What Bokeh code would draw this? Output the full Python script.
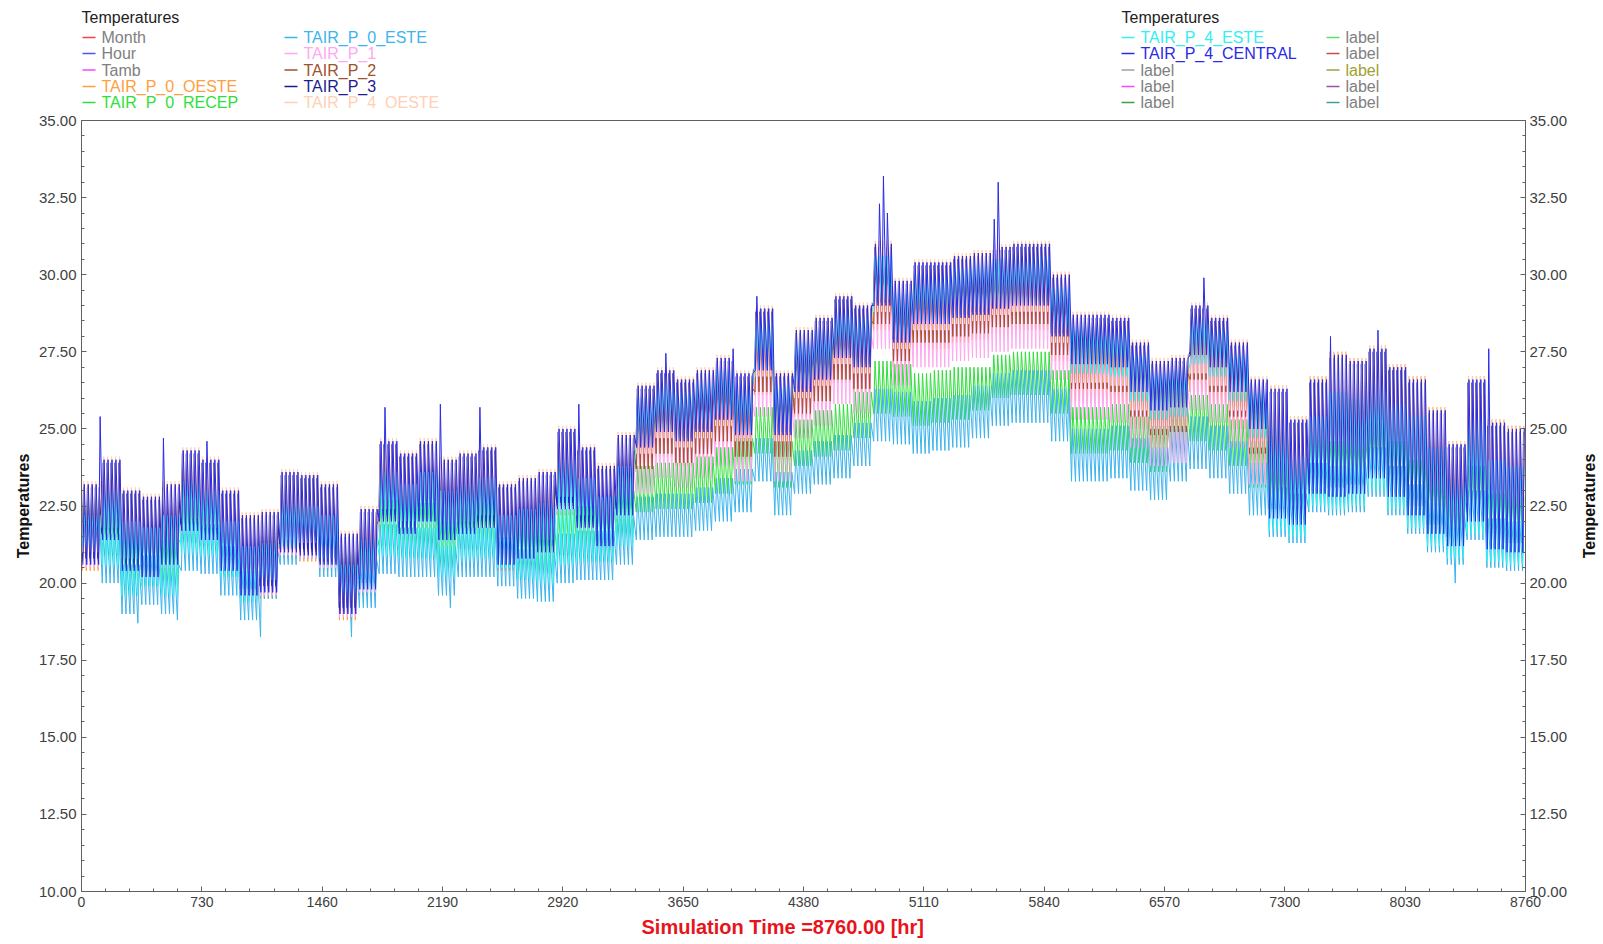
from bokeh.plotting import figure
from bokeh.layouts import column, row
from bokeh.models import Range1d, LinearAxis, FixedTicker, PrintfTickFormatter, Title
from bokeh.core.properties import value
from bokeh.embed import file_html
from bokeh.resources import INLINE

# ---------------------------------------------------------------------------
# Simulated air temperatures, one value pair per 5-day block (120 h):
# the typical daily maximum (hi) and daily minimum (lo) of each zone.
# ---------------------------------------------------------------------------
HOURS_PER_BLOCK = 120
DAYS_PER_BLOCK = 5

p4_central_hi = [23.2, 24.0, 23.0, 22.8, 23.2, 24.3, 24.0, 23.0, 22.2, 22.3,
                 23.6, 23.5, 23.2, 21.6, 22.4, 24.6, 24.2, 24.6, 24.0, 24.2,
                 24.4, 23.2, 23.4, 23.6, 25.0, 24.4, 23.8, 24.8, 26.4, 26.9,
                 26.6, 26.9, 27.3, 26.8, 28.9, 26.8, 28.2, 28.6, 29.3, 29.0,
                 31.0, 29.8, 30.4, 30.4, 30.6, 30.7, 30.9, 31.0, 31.0, 30.0,
                 28.7, 28.7, 28.6, 27.8, 27.2, 27.3, 29.0, 28.6, 27.8, 26.6,
                 26.3, 25.3, 26.6, 27.4, 27.2, 27.6, 27.0, 26.6, 25.6, 24.5,
                 26.6, 25.2, 25.0]
p4_central_lo = [20.6, 21.4, 20.4, 20.2, 20.6, 21.7, 21.4, 20.4, 19.6, 19.7,
                 21.0, 20.9, 20.6, 19.0, 19.8, 22.0, 21.6, 22.0, 21.4, 21.6,
                 21.8, 20.6, 20.8, 21.0, 22.4, 21.8, 21.2, 22.2, 24.4, 24.9,
                 24.6, 24.9, 25.3, 24.8, 26.9, 24.8, 26.2, 26.6, 27.3, 27.0,
                 29.0, 27.8, 28.4, 28.4, 28.6, 28.7, 28.9, 29.0, 29.0, 28.0,
                 27.1, 27.1, 27.0, 26.2, 25.6, 25.7, 27.4, 27.0, 26.2, 25.0,
                 22.1, 21.9, 22.9, 22.8, 22.9, 23.4, 22.8, 22.2, 21.6, 21.2,
                 22.0, 21.1, 21.0]

p3_hi = [23.1, 23.9, 22.9, 22.7, 23.1, 24.2, 23.9, 22.9, 22.1, 22.2,
         23.5, 23.4, 23.1, 21.5, 22.3, 24.5, 24.1, 24.5, 23.9, 24.1,
         24.3, 23.1, 23.3, 23.5, 24.9, 24.3, 23.7, 24.7, 26.3, 26.8,
         26.5, 26.8, 27.2, 26.7, 28.8, 26.7, 28.1, 28.5, 29.2, 28.9,
         30.9, 29.7, 30.3, 30.3, 30.5, 30.6, 30.8, 30.9, 30.9, 29.9,
         28.6, 28.6, 28.5, 27.7, 27.1, 27.2, 28.9, 28.5, 27.7, 26.5,
         26.2, 25.2, 26.5, 27.3, 27.1, 27.5, 26.9, 26.5, 25.5, 24.4,
         26.5, 25.1, 24.9]
p3_lo = [20.8, 21.6, 20.6, 20.4, 20.8, 21.9, 21.6, 20.6, 19.8, 19.9,
         21.2, 21.1, 20.8, 19.2, 20.0, 22.2, 21.8, 22.2, 21.6, 21.8,
         22.0, 20.8, 21.0, 21.2, 22.6, 22.0, 21.4, 22.4, 24.5, 25.0,
         24.7, 25.0, 25.4, 24.9, 27.0, 24.9, 26.3, 26.7, 27.4, 27.1,
         29.1, 27.9, 28.5, 28.5, 28.7, 28.8, 29.0, 29.1, 29.1, 28.1,
         27.2, 27.2, 27.1, 26.3, 25.7, 25.8, 27.5, 27.1, 26.3, 25.1,
         22.4, 22.2, 23.2, 23.1, 23.2, 23.7, 23.1, 22.5, 21.9, 21.5,
         22.3, 21.4, 21.3]

p4_oeste_hi = [23.3, 24.1, 23.1, 22.9, 23.3, 24.4, 24.1, 23.1, 22.3, 22.4,
               23.7, 23.6, 23.3, 21.7, 22.5, 24.7, 24.3, 24.7, 24.1, 24.3,
               24.5, 23.3, 23.5, 23.7, 25.1, 24.5, 23.9, 24.9, 26.5, 27.0,
               26.7, 27.0, 27.4, 26.9, 29.0, 26.9, 28.3, 28.7, 29.4, 29.1,
               31.1, 29.9, 30.5, 30.5, 30.7, 30.8, 31.0, 31.1, 31.1, 30.1,
               28.8, 28.8, 28.7, 27.9, 27.3, 27.4, 29.1, 28.7, 27.9, 26.7,
               26.4, 25.4, 26.7, 27.5, 27.3, 27.7, 27.1, 26.7, 25.7, 24.6,
               26.7, 25.3, 25.1]
p4_oeste_lo = [21.0, 21.8, 20.8, 20.6, 21.0, 22.1, 21.8, 20.8, 20.0, 20.1,
               21.4, 21.3, 21.0, 19.4, 20.2, 22.4, 22.0, 22.4, 21.8, 22.0,
               22.2, 21.0, 21.2, 21.4, 22.8, 22.2, 21.6, 22.6, 24.2, 24.7,
               24.4, 24.7, 25.1, 24.6, 26.7, 24.6, 26.0, 26.4, 27.1, 26.8,
               28.8, 27.6, 28.2, 28.2, 28.4, 28.5, 28.7, 28.8, 28.8, 27.8,
               26.5, 26.5, 26.4, 25.6, 25.0, 25.1, 26.8, 26.4, 25.6, 24.4,
               22.7, 22.5, 23.5, 23.4, 23.5, 24.0, 23.4, 22.8, 22.2, 21.8,
               22.6, 21.7, 21.6]

p0_oeste_hi = [23.2, 24.0, 23.0, 22.8, 23.2, 24.3, 24.0, 23.0, 22.2, 22.3,
               23.6, 23.5, 23.2, 21.6, 22.4, 24.6, 24.2, 24.6, 24.0, 24.2,
               24.4, 23.2, 23.4, 23.6, 25.0, 24.4, 23.8, 24.8, 26.4, 26.9,
               26.6, 26.9, 27.3, 26.8, 28.9, 26.8, 28.2, 28.6, 29.3, 29.0,
               31.0, 29.8, 30.4, 30.4, 30.6, 30.7, 30.9, 31.0, 31.0, 30.0,
               28.7, 28.7, 28.6, 27.8, 27.2, 27.3, 29.0, 28.6, 27.8, 26.6,
               26.4, 25.4, 26.7, 27.5, 27.3, 27.7, 27.1, 26.7, 25.7, 24.6,
               26.7, 25.3, 25.1]
p0_oeste_lo = [20.4, 21.2, 20.2, 20.0, 20.4, 21.5, 21.2, 20.2, 19.4, 19.5,
               20.8, 20.7, 20.4, 18.8, 19.6, 21.8, 21.4, 21.8, 21.2, 21.4,
               21.6, 20.4, 20.6, 20.8, 22.2, 21.6, 21.0, 22.0, 23.6, 24.1,
               23.8, 24.1, 24.5, 24.0, 26.1, 24.0, 25.4, 25.8, 26.5, 26.2,
               28.2, 27.0, 27.6, 27.6, 27.8, 27.9, 28.1, 28.2, 28.2, 27.2,
               25.9, 25.9, 25.8, 25.0, 24.4, 24.5, 26.2, 25.8, 25.0, 23.8,
               22.3, 22.1, 23.1, 23.0, 23.1, 23.6, 23.0, 22.4, 21.8, 21.4,
               22.2, 21.3, 21.2]

p2_hi = [22.7, 23.5, 22.5, 22.3, 22.7, 23.8, 23.5, 22.5, 21.7, 21.8,
         23.1, 23.0, 22.7, 21.1, 21.9, 24.1, 23.7, 24.1, 23.5, 23.7,
         23.9, 22.7, 22.9, 23.1, 24.5, 23.9, 23.3, 24.3, 25.9, 26.4,
         26.1, 26.4, 26.8, 26.3, 28.4, 26.3, 27.7, 28.1, 28.8, 28.5,
         30.5, 29.3, 29.9, 29.9, 30.1, 30.2, 30.4, 30.5, 30.5, 29.5,
         28.2, 28.2, 28.1, 27.3, 26.7, 26.8, 28.5, 28.1, 27.3, 26.1,
         25.8, 24.8, 26.1, 26.9, 26.7, 27.1, 26.5, 26.1, 25.1, 24.0,
         26.1, 24.7, 24.5]
p2_lo = [20.7, 21.5, 20.5, 20.3, 20.7, 21.8, 21.5, 20.5, 19.7, 19.8,
         21.1, 21.0, 20.7, 19.1, 19.9, 22.1, 21.7, 22.1, 21.5, 21.7,
         21.9, 20.7, 20.9, 21.1, 22.5, 21.9, 21.3, 22.3, 23.7, 24.2,
         23.9, 24.2, 24.6, 24.1, 26.2, 24.1, 25.5, 25.9, 26.6, 26.3,
         28.4, 27.2, 27.8, 27.8, 28.0, 28.1, 28.3, 28.4, 28.4, 27.4,
         26.3, 26.3, 26.2, 25.4, 24.8, 24.9, 26.6, 26.2, 25.4, 24.2,
         22.5, 22.3, 23.3, 23.2, 23.3, 23.8, 23.2, 22.6, 22.0, 21.6,
         22.4, 21.5, 21.4]

p1_hi = [22.2, 23.0, 22.0, 21.8, 22.2, 23.3, 23.0, 22.0, 21.2, 21.3,
         22.6, 22.5, 22.2, 20.6, 21.4, 23.6, 23.2, 23.6, 23.0, 23.2,
         23.4, 22.2, 22.4, 22.6, 24.0, 23.4, 22.8, 23.8, 25.4, 25.9,
         25.6, 25.9, 26.3, 25.8, 27.9, 25.8, 27.2, 27.6, 28.3, 28.0,
         30.0, 28.8, 29.4, 29.4, 29.6, 29.7, 29.9, 30.0, 30.0, 29.0,
         27.7, 27.7, 27.6, 26.8, 26.2, 26.3, 28.0, 27.6, 26.8, 25.6,
         25.3, 24.3, 25.6, 26.4, 26.2, 26.6, 26.0, 25.6, 24.6, 23.5,
         25.6, 24.2, 24.0]
p1_lo = [20.5, 21.3, 20.3, 20.1, 20.5, 21.6, 21.3, 20.3, 19.5, 19.6,
         20.9, 20.8, 20.5, 18.9, 19.7, 21.9, 21.5, 21.9, 21.3, 21.5,
         21.7, 20.5, 20.7, 20.9, 22.3, 21.7, 21.1, 22.1, 22.9, 23.4,
         23.1, 23.4, 23.8, 23.3, 25.4, 23.3, 24.7, 25.1, 25.8, 25.5,
         27.6, 26.4, 27.0, 27.0, 27.2, 27.3, 27.5, 27.6, 27.6, 26.6,
         25.3, 25.3, 25.2, 24.4, 23.8, 23.9, 25.6, 25.2, 24.4, 23.2,
         22.7, 22.5, 23.5, 23.4, 23.5, 24.0, 23.4, 22.8, 22.2, 21.8,
         22.6, 21.7, 21.6]

p4_este_hi = [22.2, 23.0, 22.0, 21.8, 22.2, 23.3, 23.0, 22.0, 21.2, 21.3,
              22.6, 22.5, 22.2, 20.6, 21.4, 23.6, 23.2, 23.6, 23.0, 23.2,
              23.4, 22.2, 22.4, 22.6, 24.0, 23.4, 22.8, 23.8, 26.0, 26.5,
              26.2, 26.5, 26.9, 26.4, 28.5, 26.4, 27.8, 28.2, 28.9, 28.6,
              30.6, 29.4, 30.0, 30.0, 30.2, 30.3, 30.5, 30.6, 30.6, 29.6,
              28.3, 28.3, 28.2, 27.4, 26.8, 26.9, 28.6, 28.2, 27.4, 26.2,
              25.1, 24.1, 25.4, 26.2, 26.0, 26.4, 25.8, 25.4, 24.4, 23.3,
              25.4, 24.0, 23.8]
p4_este_lo = [21.2, 20.6, 19.6, 19.9, 19.6, 21.0, 20.9, 20.2, 19.4, 20.1,
              21.2, 21.4, 20.8, 19.6, 19.8, 20.9, 20.8, 20.8, 20.2, 20.8,
              20.8, 20.5, 20.1, 20.0, 20.6, 20.7, 20.7, 21.2, 24.5, 25.0,
              24.7, 25.0, 25.4, 24.9, 27.0, 24.9, 26.3, 26.7, 27.4, 27.1,
              29.1, 27.9, 28.5, 28.5, 28.7, 28.8, 29.0, 29.1, 29.1, 28.1,
              26.8, 26.8, 26.7, 25.9, 25.3, 25.4, 27.1, 26.7, 25.9, 24.7,
              21.7, 21.5, 22.5, 22.4, 22.5, 23.0, 22.4, 21.8, 21.2, 20.8,
              21.6, 20.7, 20.6]

p0_recep_hi = [23.0, 22.4, 21.4, 21.7, 21.4, 22.8, 22.7, 22.0, 21.2, 21.9,
               23.0, 23.2, 22.6, 21.4, 21.6, 22.7, 22.6, 22.6, 22.0, 22.6,
               22.6, 22.3, 21.9, 21.8, 22.4, 22.5, 22.5, 23.0, 23.8, 23.9,
               23.9, 24.1, 24.4, 24.7, 25.7, 24.6, 25.3, 25.6, 25.8, 26.2,
               27.2, 27.1, 26.8, 26.9, 27.0, 27.0, 27.4, 27.5, 27.5, 26.9,
               25.7, 25.7, 25.8, 25.4, 25.1, 25.7, 26.1, 25.8, 25.3, 24.6,
               23.9, 23.7, 24.7, 24.6, 24.7, 25.2, 24.6, 24.0, 23.4, 23.0,
               23.8, 22.9, 22.8]
p0_recep_lo = [21.5, 20.9, 19.9, 20.2, 19.9, 21.3, 21.2, 20.5, 19.7, 20.4,
               21.5, 21.7, 21.1, 19.9, 20.1, 21.2, 21.1, 21.1, 20.5, 21.1,
               21.1, 20.8, 20.4, 20.3, 20.9, 21.0, 21.0, 21.5, 22.3, 22.4,
               22.4, 22.6, 22.9, 23.2, 24.2, 23.1, 23.8, 24.1, 24.3, 24.7,
               25.5, 25.4, 25.1, 25.2, 25.3, 25.6, 26.0, 26.1, 26.1, 25.5,
               24.2, 24.2, 24.3, 23.9, 23.6, 24.2, 24.6, 24.3, 23.8, 23.1,
               22.4, 22.2, 23.2, 23.1, 23.2, 23.7, 23.1, 22.5, 21.9, 21.5,
               22.3, 21.4, 21.3]

p0_este_hi = [22.2, 21.6, 20.6, 20.9, 20.6, 22.0, 21.9, 21.2, 20.4, 21.1,
              22.2, 22.4, 21.8, 20.6, 20.8, 21.9, 21.8, 21.8, 21.2, 21.8,
              21.8, 21.5, 21.1, 21.0, 21.6, 21.7, 21.7, 22.2, 22.8, 22.9,
              22.9, 23.1, 23.4, 23.7, 24.7, 23.6, 24.3, 24.6, 24.8, 25.2,
              26.3, 26.2, 25.9, 26.0, 26.1, 26.4, 26.8, 26.9, 26.9, 26.3,
              25.0, 25.0, 25.1, 24.7, 24.4, 25.0, 25.4, 25.1, 24.6, 23.9,
              23.1, 22.9, 23.9, 23.8, 23.9, 24.4, 23.8, 23.2, 22.6, 22.2,
              23.0, 22.1, 22.0]
p0_este_lo = [20.6, 20.0, 19.0, 19.3, 19.0, 20.4, 20.3, 19.6, 18.8, 19.5,
              20.6, 20.8, 20.2, 19.0, 19.2, 20.3, 20.2, 20.2, 19.6, 20.2,
              20.2, 19.9, 19.5, 19.4, 20.0, 20.1, 20.1, 20.6, 21.4, 21.5,
              21.5, 21.7, 22.0, 22.3, 23.3, 22.2, 22.9, 23.2, 23.4, 23.8,
              24.6, 24.5, 24.2, 24.3, 24.4, 24.7, 25.1, 25.2, 25.2, 24.6,
              23.3, 23.3, 23.4, 23.0, 22.7, 23.3, 23.7, 23.4, 22.9, 22.2,
              21.5, 21.3, 22.3, 22.2, 22.3, 22.8, 22.2, 21.6, 21.0, 20.6,
              21.4, 20.5, 20.4]

# Individual hot days of TAIR_P_4_CENTRAL and cold nights of TAIR_P_0_ESTE
peak_hours = [103, 490, 764, 1845, 2160, 2409, 3016, 3530, 3956, 4090,
              4842, 4866, 4890, 5522, 5546, 6808, 7579, 7870, 8535]
peak_temps = [25.4, 24.7, 24.6, 25.7, 25.8, 25.7, 25.8, 27.45, 27.6, 29.3,
              32.3, 33.2, 32.0, 31.8, 33.0, 29.9, 28.0, 28.2, 27.6]
dip_hours = [358, 583, 1086, 1645, 2240, 8337]
dip_temps = [18.7, 18.8, 18.25, 18.25, 19.2, 20.0]

x_ticks = [0, 730, 1460, 2190, 2920, 3650, 4380, 5110, 5840, 6570, 7300, 8030, 8760]
y_ticks = [10.0, 12.5, 15.0, 17.5, 20.0, 22.5, 25.0, 27.5, 30.0, 32.5, 35.0]

FONT = "Liberation Sans"
GRAY_TEXT = "#808080"
AXIS_GRAY = "#606060"


def daily_path(hi, lo, lo_hour, hi_hour, peaks=None, dips=None):
    """Hourly positions of a daily cycle: night minimum, afternoon maximum."""
    xs, ys = [], []
    for k in range(len(hi)):
        for d in range(DAYS_PER_BLOCK):
            day = k * DAYS_PER_BLOCK + d
            start = day * 24
            v_lo, v_hi = lo[k], hi[k]
            if dips and day in dips:
                v_lo = dips[day]
            if peaks and day in peaks:
                v_hi = peaks[day]
            xs += [start + lo_hour, start + hi_hour]
            ys += [v_lo, v_hi]
    return xs, ys


peaks_by_day = {h // 24: t for h, t in zip(peak_hours, peak_temps)}
dips_by_day = {h // 24: t for h, t in zip(dip_hours, dip_temps)}

# drawing order follows the plotter's series order (later ones on top)
series = [
    ("TAIR_P_0_OESTE", "#ffa040", p0_oeste_hi, p0_oeste_lo, 5, 14, None, None),
    ("TAIR_P_0_RECEP", "#2ee03a", p0_recep_hi, p0_recep_lo, 6, 14, None, None),
    ("TAIR_P_0_ESTE", "#3db4ee", p0_este_hi, p0_este_lo, 6, 13, None, dips_by_day),
    ("TAIR_P_1", "#ffa8f0", p1_hi, p1_lo, 5, 15, None, None),
    ("TAIR_P_2", "#a0522d", p2_hi, p2_lo, 6, 16, None, None),
    ("TAIR_P_3", "#1c1c90", p3_hi, p3_lo, 4, 12, None, None),
    ("TAIR_P_4_OESTE", "#ffd0b4", p4_oeste_hi, p4_oeste_lo, 6, 15, None, None),
    ("TAIR_P_4_ESTE", "#30f0f0", p4_este_hi, p4_este_lo, 6, 15, None, None),
    ("TAIR_P_4_CENTRAL", "#2a2ae8", p4_central_hi, p4_central_lo, 8, 17, peaks_by_day, None),
]

# ---------------------------------------------------------------------------
# Main plot (frame spans page pixels 81..1525 x 120..891)
# ---------------------------------------------------------------------------
p = figure(width=1578, height=834, x_range=Range1d(0, 8760), y_range=Range1d(10, 35),
           output_backend="svg", toolbar_location=None,
           min_border_left=81, min_border_right=53, min_border_top=10, min_border_bottom=53)
p.grid.visible = False
p.outline_line_color = AXIS_GRAY

for name, color, hi, lo, lo_h, hi_h, pk, dp in series:
    xs, ys = daily_path(hi, lo, lo_h, hi_h, pk, dp)
    p.line(xs, ys, line_color=color, line_width=1)

y_ticker = FixedTicker(ticks=y_ticks, minor_ticks=[10 + 0.5 * i for i in range(51)])
x_ticker = FixedTicker(ticks=x_ticks, minor_ticks=[146 * i for i in range(61)])

p.xaxis.ticker = x_ticker
p.yaxis.ticker = y_ticker
p.yaxis.formatter = PrintfTickFormatter(format="%.2f")

right_axis = LinearAxis(ticker=y_ticker, formatter=PrintfTickFormatter(format="%.2f"))
p.add_layout(right_axis, "right")

p.yaxis.axis_label = None
p.yaxis[0].axis_label = "Temperatures"
for ax in p.xaxis + p.yaxis:
    ax.axis_line_color = AXIS_GRAY
    ax.major_tick_line_color = AXIS_GRAY
    ax.minor_tick_line_color = AXIS_GRAY
    ax.major_tick_in = 5
    ax.major_tick_out = 0
    ax.minor_tick_in = 3
    ax.minor_tick_out = 0
    ax.major_label_text_font = FONT
    ax.major_label_text_color = "#404040"
    ax.major_label_standoff = 5
for ax in p.yaxis:
    ax.major_label_text_font_size = "15px"
    ax.axis_label_text_font = FONT
    ax.axis_label_text_font_style = "bold"
    ax.axis_label_text_font_size = "16px"
    ax.axis_label_text_color = "#111111"
    ax.axis_label_standoff = 4
right_axis.major_label_standoff = 4
p.xaxis.major_label_text_font_size = "14px"

p.add_layout(Title(text="Simulation Time =8760.00 [hr]", align="left", offset=560,
                   text_font=FONT, text_font_style="bold", text_font_size="20px",
                   text_color="#e8141c", standoff=8), "below")

# Narrow strip on the right carrying the right-hand axis title
side = figure(width=25, height=834, x_range=Range1d(0, 1), y_range=Range1d(10, 35),
              x_axis_type=None, y_axis_type=None, output_backend="svg",
              toolbar_location=None, min_border_left=0, min_border_right=0,
              min_border_top=10, min_border_bottom=53, outline_line_color=None)
side.grid.visible = False
side.add_layout(Title(text="Temperatures", align="center", text_font=FONT,
                      text_font_style="bold", text_font_size="16px",
                      text_color="#111111", standoff=0), "left")

# ---------------------------------------------------------------------------
# Legend strip above the plot (x coordinates are page pixels)
# ---------------------------------------------------------------------------
leg = figure(width=1603, height=110, x_range=Range1d(81, 1525), y_range=Range1d(110, 0),
             x_axis_type=None, y_axis_type=None, output_backend="svg",
             toolbar_location=None, min_border_left=81, min_border_right=78,
             min_border_top=0, min_border_bottom=0, outline_line_color=None)
leg.grid.visible = False

legend_titles = ["Temperatures", "Temperatures"]
legend_title_x = [81, 1121]
legend_row_y = [37, 53, 69.5, 86, 102]
legend_col_x = [82, 284, 1121, 1326]

legend_names = ["Month", "Hour", "Tamb", "TAIR_P_0_OESTE", "TAIR_P_0_RECEP",
                "TAIR_P_0_ESTE", "TAIR_P_1", "TAIR_P_2", "TAIR_P_3", "TAIR_P_4_OESTE",
                "TAIR_P_4_ESTE", "TAIR_P_4_CENTRAL", "label", "label", "label",
                "label", "label", "label", "label", "label"]
legend_line_colors = ["#ff4040", "#5050ff", "#ff40ff", "#ffa040", "#2ee03a",
                      "#3db4ee", "#ffa8f0", "#a0522d", "#1c1c90", "#ffd0b4",
                      "#30f0f0", "#2a2ae8", "#a0a0a0", "#ff40ff", "#40a040",
                      "#60e060", "#c05050", "#a0a040", "#a050a0", "#40a0a0"]
legend_text_colors = [GRAY_TEXT, GRAY_TEXT, GRAY_TEXT, "#ffa040", "#2ee03a",
                      "#3db4ee", "#ffa8f0", "#a0522d", "#1c1c90", "#ffd0b4",
                      "#30f0f0", "#2a2ae8", GRAY_TEXT, GRAY_TEXT, GRAY_TEXT,
                      GRAY_TEXT, GRAY_TEXT, "#a0a030", GRAY_TEXT, GRAY_TEXT]

leg.text(x=legend_title_x, y=[17, 17], text=legend_titles, text_color="#222222",
         text_font=value(FONT), text_font_size="16px", text_baseline="middle")

x0, x1, yy, tx = [], [], [], []
for i in range(len(legend_names)):
    col, r = divmod(i, 5)
    x0.append(legend_col_x[col])
    x1.append(legend_col_x[col] + 13)
    yy.append(legend_row_y[r])
    tx.append(legend_col_x[col] + 19)
leg.segment(x0=x0, y0=yy, x1=x1, y1=yy, line_color=legend_line_colors, line_width=1.5)
leg.text(x=tx, y=yy, text=legend_names, text_color=legend_text_colors,
         text_font=value(FONT), text_font_size="16px", text_baseline="middle")

layout = column(leg, row(p, side, spacing=0), spacing=0)
open("out.html", "w").write(file_html(layout, INLINE))
